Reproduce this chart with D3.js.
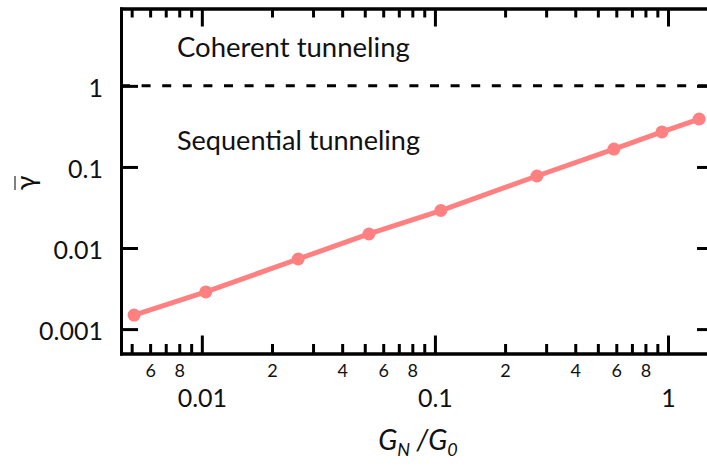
<!DOCTYPE html>
<html>
<head>
<meta charset="utf-8">
<script src="https://cdn.jsdelivr.net/npm/d3@7"></script>
<style>
  html, body { margin: 0; padding: 0; background: #fff; }
  svg { display: block; }
  text { font-family: Lato, "Open Sans", sans-serif; fill: #111; }
</style>
</head>
<body>
<svg id="chart" width="707" height="469"></svg>
<script>
// Normalised conductance G_N/G_0 and the averaged parameter gamma-bar
const conductance = [0.00512, 0.0104, 0.0259, 0.0521, 0.106, 0.274, 0.586, 0.942, 1.36];
const gammaBar    = [0.00149, 0.00287, 0.00732, 0.0149, 0.0290, 0.0773, 0.166, 0.270, 0.390];

// Axis ticks
const xMajorTicks = [0.01, 0.1, 1];
const xMajorLabels = ["0.01", "0.1", "1"];
const xMinorLabeledTicks = [0.006, 0.008, 0.02, 0.04, 0.06, 0.08, 0.2, 0.4, 0.6, 0.8];
const xMinorLabels = ["6", "8", "2", "4", "6", "8", "2", "4", "6", "8"];
const yTicks = [0.001, 0.01, 0.1, 1];
const yTickLabels = ["0.001", "0.01", "0.1", "1"];

// Regime boundary and region labels
const boundary = 1;
const regionLabels = ["Coherent tunneling", "Sequential tunneling"];

const svg = d3.select("#chart");
const plotLeft = 121, plotRight = 714, plotTop = 8.5, plotBottom = 353.5;

const x = d3.scaleLog().domain([0.0045, 1.575]).range([plotLeft, plotRight]);
const y = d3.scaleLog().domain([0.0005, 9]).range([plotBottom, plotTop]);

const xMinorTicks = x.ticks().filter(v => !xMajorTicks.some(m => Math.abs(m - v) / m < 1e-6));

function styleAxis(g) {
  g.selectAll("path.domain").attr("stroke", "#000").attr("stroke-width", 3).attr("stroke-linecap", "square");
  g.selectAll(".tick line").attr("stroke", "#000").attr("stroke-width", 3);
  g.selectAll("text").attr("fill", "#111").attr("font-family", "Lato, sans-serif");
}

// Bottom axis: minor ticks with small digit labels
svg.append("g").attr("transform", `translate(0,${plotBottom})`)
  .call(d3.axisBottom(x).tickValues(xMinorTicks).tickSizeInner(-9.5).tickSizeOuter(0)
    .tickPadding(11).tickFormat(v => {
      const i = xMinorLabeledTicks.findIndex(t => Math.abs(t - v) / t < 1e-6);
      return i >= 0 ? xMinorLabels[i] : "";
    }))
  .call(g => g.selectAll("text").attr("font-size", 18))
  .call(styleAxis);

// Bottom axis: major ticks with decade labels
svg.append("g").attr("transform", `translate(0,${plotBottom})`)
  .call(d3.axisBottom(x).tickValues(xMajorTicks).tickSizeInner(-18).tickSizeOuter(0)
    .tickPadding(36).tickFormat((v, i) => xMajorLabels[i]))
  .call(g => g.selectAll("text").attr("font-size", 25))
  .call(styleAxis);

// Top axis mirrors the bottom ticks, pointing inward
svg.append("g").attr("transform", `translate(0,${plotTop})`)
  .call(d3.axisTop(x).tickValues(xMinorTicks).tickSizeInner(-9).tickSizeOuter(0).tickFormat(""))
  .call(styleAxis);
svg.append("g").attr("transform", `translate(0,${plotTop})`)
  .call(d3.axisTop(x).tickValues(xMajorTicks).tickSizeInner(-18).tickSizeOuter(0).tickFormat(""))
  .call(styleAxis);

// Left axis with decade labels
svg.append("g").attr("transform", `translate(${plotLeft},0)`)
  .call(d3.axisLeft(y).tickValues(yTicks).tickSizeInner(-17).tickSizeOuter(0)
    .tickPadding(18).tickFormat((v, i) => yTickLabels[i]))
  .call(g => g.selectAll("text").attr("font-size", 25).attr("dy", "0.42em"))
  .call(styleAxis);

// Right axis, ticks only
svg.append("g").attr("transform", `translate(${plotRight},0)`)
  .call(d3.axisRight(y).tickValues(yTicks).tickSizeInner(-17).tickSizeOuter(0).tickFormat(""))
  .call(styleAxis);

// Dashed boundary between the two regimes
svg.append("line")
  .attr("x1", plotLeft).attr("x2", plotRight)
  .attr("y1", y(boundary)).attr("y2", y(boundary))
  .attr("stroke", "#000").attr("stroke-width", 3)
  .attr("stroke-dasharray", "9 11.6");

// Region labels, sized to their set widths
function fitText(sel, width) {
  const w = sel.node().getComputedTextLength();
  const fs = parseFloat(sel.attr("font-size"));
  sel.attr("font-size", fs * width / w);
}
fitText(svg.append("text").attr("x", 177).attr("y", 57).attr("font-size", 24).text(regionLabels[0]), 233);
fitText(svg.append("text").attr("x", 177).attr("y", 150).attr("font-size", 24).text(regionLabels[1]), 243);

// Data series
const line = d3.line().x(d => x(d[0])).y(d => y(d[1]));
const pts = conductance.map((c, i) => [c, gammaBar[i]]);
svg.append("path").datum(pts)
  .attr("d", line).attr("fill", "none")
  .attr("stroke", "#ff8080").attr("stroke-width", 5)
  .attr("stroke-linejoin", "round");
svg.append("g").selectAll("circle").data(pts).join("circle")
  .attr("cx", d => x(d[0])).attr("cy", d => y(d[1])).attr("r", 6.5)
  .attr("fill", "#ff8080");

// Y-axis title: gamma with an overbar, rotated
const yt = svg.append("g").attr("transform", "translate(27,183) rotate(-90)");
yt.append("text").attr("text-anchor", "middle").attr("y", 8)
  .attr("font-size", 27).attr("font-family", "'Noto Sans', sans-serif").text("γ");
yt.append("line").attr("x1", -7).attr("x2", 7).attr("y1", -12).attr("y2", -12)
  .attr("stroke", "#555").attr("stroke-width", 1.5);

// X-axis title: G_N / G_0
const xt = svg.append("text").attr("x", 418).attr("y", 450).attr("text-anchor", "middle")
  .attr("font-size", 28).attr("font-style", "italic");
xt.append("tspan").text("G");
xt.append("tspan").attr("font-size", 18).attr("dy", 6).text("N");
xt.append("tspan").attr("dy", -6).text(" /G");
xt.append("tspan").attr("font-size", 18).attr("dy", 6).text("0");
</script>
</body>
</html>
